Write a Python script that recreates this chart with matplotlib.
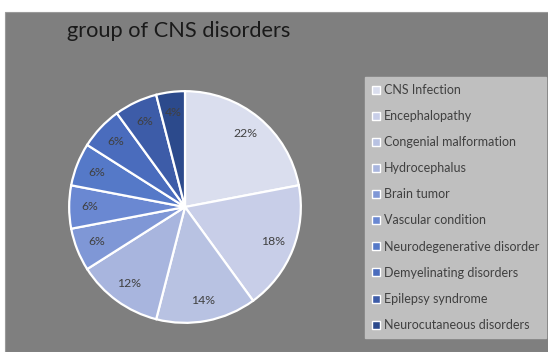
import matplotlib.pyplot as plt
from matplotlib.lines import Line2D
from matplotlib.patches import Rectangle

categories = ["CNS Infection", "Encephalopathy", "Congenial malformation", "Hydrocephalus",
              "Brain tumor", "Vascular condition", "Neurodegenerative disorder",
              "Demyelinating disorders", "Epilepsy syndrome", "Neurocutaneous disorders"]
shares = [22, 18, 14, 12, 6, 6, 6, 6, 6, 4]
colors = ["#dadeee", "#c8cee8", "#b8c2e2", "#a8b5de", "#7f97d6",
          "#6a88d2", "#5579c8", "#4a6cbd", "#3d5ca8", "#2c4a8c"]

plt.rcParams['font.family'] = ['Lato', 'DejaVu Sans']

fig = plt.figure(figsize=(5.48, 3.52), dpi=100, facecolor='white')
fig.patches.append(Rectangle((5 / 548, 0), 1, 1 - 12 / 352, transform=fig.transFigure,
                             facecolor='#7f7f7f', edgecolor='#9a9a9a', lw=0.8, zorder=-5))

fig.text(67 / 548, 1 - 31 / 352, "group of CNS disorders", fontsize=15.7, color='#1a1a1a',
         va='center', ha='left')

ax = fig.add_axes([68 / 548, 28 / 352, 234 / 548, 234 / 352])
ax.set_zorder(2)
wedges, texts, autotexts = ax.pie(
    shares, colors=colors, startangle=90, counterclock=False,
    autopct=lambda p: f"{p:.0f}%", pctdistance=0.82,
    wedgeprops=dict(edgecolor='white', linewidth=1.6),
    textprops=dict(fontsize=8.8, color='#404040'))
ax.set_xlim(-1.01, 1.01)
ax.set_ylim(-1.01, 1.01)
ax.set_aspect('equal')

handles = [Line2D([], [], marker='s', linestyle='none', markersize=5.5,
                  markerfacecolor=c, markeredgecolor='white', markeredgewidth=1)
           for c in colors]
leg = fig.legend(handles, categories, loc='upper left', bbox_to_anchor=(365 / 548, 1 - 77 / 352),
                 frameon=True, fancybox=False, facecolor='#bfbfbf', edgecolor='#bfbfbf',
                 framealpha=1, fontsize=9, labelcolor='#404040', handlelength=0.6,
                 handletextpad=0.35, labelspacing=1.13, borderpad=0.55, borderaxespad=0)
leg.set_zorder(3)

fig.savefig("out.png", dpi=100)
